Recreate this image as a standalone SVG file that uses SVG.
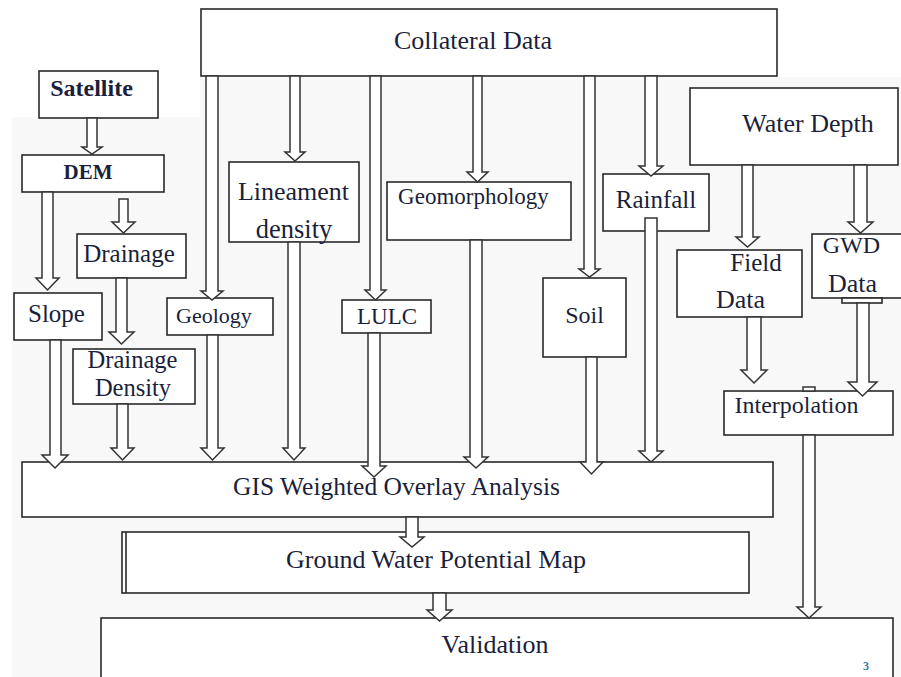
<svg xmlns="http://www.w3.org/2000/svg" width="901" height="677" viewBox="0 0 901 677">
<style>
.box{fill:#ffffff;stroke:#2a2a2a;stroke-width:1.6}
.arr{fill:#ffffff;stroke:#333333;stroke-width:1.5;stroke-linejoin:miter}
text{font-family:"Liberation Serif","Times New Roman",serif;fill:#1b1f3b;text-anchor:middle}
.b{font-weight:bold}
</style>
<rect x="0" y="0" width="901" height="677" fill="#ffffff"/>
<path d="M12 117 H200 V77 H901 V677 H12 Z" fill="#f8f8f8"/>
<g id="nodes">
<g id="collateral"><rect class="box" x="201" y="9" width="576" height="67"/><text x="473" y="49" font-size="26">Collateral Data</text></g>
<g id="satellite"><rect class="box" x="39" y="71" width="119" height="47"/><text class="b" x="91.5" y="96" font-size="24">Satellite</text></g>
<g id="dem"><rect class="box" x="22" y="155" width="142" height="37"/><text class="b" x="88" y="179" font-size="21">DEM</text></g>
<g id="drainage"><rect class="box" x="77" y="234" width="109" height="44"/><text x="129" y="262" font-size="25">Drainage</text></g>
<g id="slope"><rect class="box" x="14" y="293" width="88" height="47"/><text x="56.5" y="322" font-size="25">Slope</text></g>
<g id="drainage-density"><rect class="box" x="73" y="349" width="122" height="55"/><text x="132.5" y="368" font-size="24.5">Drainage</text><text x="133" y="396" font-size="24.5">Density</text></g>
<g id="geology"><rect class="box" x="167" y="298" width="106" height="37"/><text x="214" y="323" font-size="22">Geology</text></g>
<g id="lineament"><rect class="box" x="229" y="162" width="130" height="80"/><text x="293.5" y="200" font-size="26">Lineament</text><text x="294" y="238" font-size="26.5">density</text></g>
<g id="lulc"><rect class="box" x="342" y="300" width="89" height="33"/><text x="387" y="324" font-size="23">LULC</text></g>
<g id="geomorphology"><rect class="box" x="387" y="182" width="184" height="58"/><text x="473.5" y="204" font-size="23">Geomorphology</text></g>
<g id="soil"><rect class="box" x="543" y="278" width="83" height="79"/><text x="584.5" y="323" font-size="24">Soil</text></g>
<g id="rainfall"><rect class="box" x="603" y="174" width="106" height="57"/><text x="656" y="208" font-size="25">Rainfall</text></g>
<g id="water-depth"><rect class="box" x="690" y="88" width="208" height="77"/><text x="808" y="132" font-size="26">Water Depth</text></g>
<g id="field-data"><rect class="box" x="677" y="250" width="125" height="67"/><text x="756" y="271" font-size="25">Field</text><text x="740.5" y="308" font-size="26">Data</text></g>
<g id="gwd-data"><rect class="box" x="812" y="234" width="92" height="64"/><rect class="box" x="842" y="298" width="40" height="5"/><text x="851.5" y="253" font-size="24">GWD</text><text x="852.5" y="292" font-size="26">Data</text></g>
<g id="interpolation"><rect class="box" x="724" y="391" width="169" height="44"/><text x="796.5" y="413" font-size="24">Interpolation</text></g>
<g id="gis"><rect class="box" x="22" y="462" width="751" height="55"/><text x="396.5" y="495" font-size="25.5">GIS Weighted Overlay Analysis</text></g>
<g id="gwp-map"><rect class="box" x="122" y="532" width="627" height="61"/><line x1="126" y1="532" x2="126" y2="593" stroke="#2a2a2a" stroke-width="1.6"/><text x="436" y="568" font-size="26">Ground Water Potential Map</text></g>
<g id="validation"><rect class="box" x="101" y="618" width="792" height="70"/><text x="495" y="653" font-size="26">Validation</text><text x="866" y="670" font-size="12" font-weight="bold" style="fill:#3a7f9a">3</text></g>
</g>
<g id="connectors">
<polygon class="arr" points="87,118 87,147 82,147 92,154 102,147 97,147 97,118"/>
<polygon class="arr" points="42,192 42,278 36,278 47.5,290 59,278 53,278 53,192"/>
<polygon class="arr" points="119,199 119,222 112,222 123.5,233 135,222 128,222 128,199"/>
<polygon class="arr" points="116,278 116,332 109,332 121.5,344 134,332 127,332 127,278"/>
<polygon class="arr" points="50,340 50,455 42,455 55,468 68,455 61,455 61,340"/>
<polygon class="arr" points="117,404 117,448 111,448 122.5,460 134,448 128,448 128,404"/>
<polygon class="arr" points="206,76 206,291 201,291 212,300 223,291 218,291 218,76"/>
<polygon class="arr" points="207,335 207,448 201,448 212.5,460 224,448 218,448 218,335"/>
<polygon class="arr" points="290,76 290,152 285,152 295,161 305,152 300,152 300,76"/>
<polygon class="arr" points="288,242 288,448 283,448 294,460 305,448 300,448 300,242"/>
<polygon class="arr" points="370,76 370,290 365,290 375.5,300 386,290 381,290 381,76"/>
<polygon class="arr" points="368,333 368,466 362,466 374,477 386,466 380,466 380,333"/>
<polygon class="arr" points="473,76 473,172 467,172 477.5,182 488,172 482,172 482,76"/>
<polygon class="arr" points="470,240 470,457 464,457 476,468 488,457 482,457 482,240"/>
<polygon class="arr" points="584,76 584,269 579,269 589.5,277 600,269 595,269 595,76"/>
<polygon class="arr" points="586,357 586,462 580,462 591.5,474 603,462 597,462 597,357"/>
<polygon class="arr" points="645,76 645,166 639,166 651,176 663,166 657,166 657,76"/>
<polygon class="arr" points="645,218 645,451 639,451 651,462 663,451 657,451 657,218"/>
<polygon class="arr" points="742,165 742,237 736,237 747.5,247 759,237 753,237 753,165"/>
<polygon class="arr" points="854,165 854,222 848,222 860.5,233 873,222 867,222 867,165"/>
<polygon class="arr" points="747,317 747,370 741,370 754,383 767,370 761,370 761,317"/>
<polygon class="arr" points="857,303 857,382 848,382 862.5,396 877,382 869,382 869,303"/>
<rect class="arr" x="803" y="387" width="12" height="4"/>
<polygon class="arr" points="803,435 803,607 797,607 809,618 821,607 815,607 815,435"/>
<polygon class="arr" points="406,517 406,537 400,537 412,547 424,537 418,537 418,517"/>
<polygon class="arr" points="433,593 433,610 427,610 439.5,621 452,610 446,610 446,593"/>
</g>
</svg>
